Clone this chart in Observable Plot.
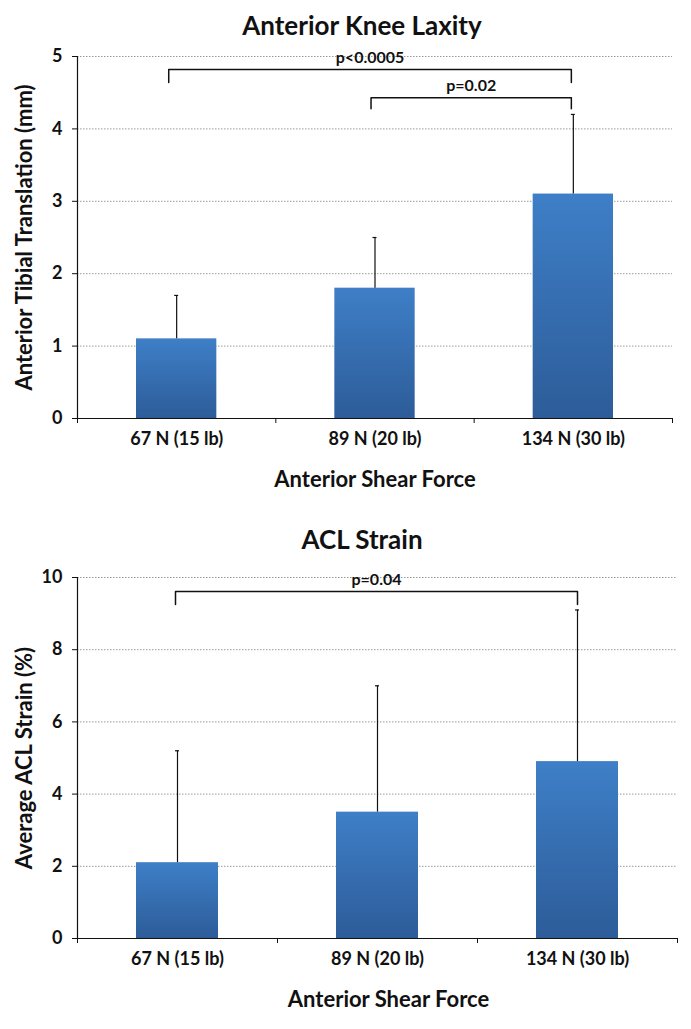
<!DOCTYPE html>
<html>
<head>
<meta charset="utf-8">
<script src="https://cdn.jsdelivr.net/npm/d3@7"></script>
<script src="https://cdn.jsdelivr.net/npm/@observablehq/plot@0.6"></script>
<style>
  html, body { margin: 0; padding: 0; background: #fff; }
  #wrap { position: relative; width: 691px; height: 1029px; font-family: Lato, "Open Sans", sans-serif; }
  .title { position: absolute; transform: translateX(-50%); font-weight: bold; font-size: 26px; line-height: 26px; color: #111; white-space: nowrap; }
  .panel { position: absolute; left: 0; }
</style>
</head>
<body>
<div id="wrap">
  <div class="title" id="t1" style="left:362px; top:12px;"></div>
  <div class="panel" id="p1" style="top:44px;"></div>
  <div class="title" id="t2" style="left:362px; top:526px;"></div>
  <div class="panel" id="p2" style="top:560px;"></div>
</div>
<script>
// ---- data ----
const categories = ["67 N (15 lb)", "89 N (20 lb)", "134 N (30 lb)"];
const xTitle = "Anterior Shear Force";

const laxityTitle = "Anterior Knee Laxity";
const laxityYLabel = "Anterior Tibial Translation (mm)";
const laxityMean = [1.1, 1.8, 3.1];
const laxityUpper = [1.7, 2.5, 4.2];
const laxityTicks = [0, 1, 2, 3, 4, 5];
const laxityBrackets = [
  {label: "p<0.0005", x1: 0.46, x2: 2.49, top: 4.82, leg: 4.64},
  {label: "p=0.02", x1: 1.48, x2: 2.49, top: 4.43, leg: 4.28}
];

const strainTitle = "ACL Strain";
const strainYLabel = "Average ACL Strain (%)";
const strainMean = [2.1, 3.5, 4.9];
const strainUpper = [5.2, 7.0, 9.1];
const strainTicks = [0, 2, 4, 6, 8, 10];
const strainBrackets = [
  {label: "p=0.04", x1: 0.49, x2: 2.5, top: 9.61, leg: 9.25}
];

const FONT = "Lato, 'Open Sans', sans-serif";

function gradientDefs() {
  const ns = "http://www.w3.org/2000/svg";
  const defs = document.createElementNS(ns, "defs");
  const g = document.createElementNS(ns, "linearGradient");
  g.setAttribute("id", "barGrad");
  g.setAttribute("x1", "0"); g.setAttribute("y1", "0");
  g.setAttribute("x2", "0"); g.setAttribute("y2", "1");
  [["0%", "#3e7fc7"], ["100%", "#2d5c99"]].forEach(([o, c]) => {
    const s = document.createElementNS(ns, "stop");
    s.setAttribute("offset", o); s.setAttribute("stop-color", c);
    g.appendChild(s);
  });
  defs.appendChild(g);
  return defs;
}

function panel({mean, upper, ticks, brackets, yLabel, height, marginTop, marginBottom, marginRight, xTitleDx}) {
  const rows = categories.map((c, i) => ({cat: c, i, x: i + 0.5, mean: mean[i], upper: upper[i]}));
  const bracketPts = brackets.flatMap((b, k) => [
    {k, x: b.x1, y: b.leg}, {k, x: b.x1, y: b.top}, {k, x: b.x2, y: b.top}, {k, x: b.x2, y: b.leg}
  ]);
  const bracketLabels = brackets.map(b => ({label: b.label, x: (b.x1 + b.x2) / 2, y: b.top}));
  return Plot.plot({
    width: 691,
    height,
    marginLeft: 77,
    marginRight,
    marginTop,
    marginBottom,
    style: {fontFamily: FONT, color: "#111", background: "white", overflow: "visible"},
    x: {domain: [0, categories.length], axis: null},
    y: {domain: [0, ticks[ticks.length - 1]], axis: null},
    marks: [
      () => gradientDefs(),
      Plot.gridY(ticks.filter(t => t > 0), {stroke: "#9a9a9a", strokeOpacity: 1, strokeDasharray: "1.5,1.5", strokeWidth: 1}),
      Plot.rectY(rows, {x1: d => d.i, x2: d => d.i + 1, y: "mean", fill: "url(#barGrad)", insetLeft: 59, insetRight: 59}),
      Plot.ruleX(rows, {x: "x", y1: "mean", y2: "upper", stroke: "#111", strokeWidth: 1.2}),
      Plot.ruleY(rows, {x1: "x", x2: "x", y: "upper", stroke: "#111", strokeWidth: 1.2, insetLeft: -2, insetRight: -2}),
      Plot.line(bracketPts, {x: "x", y: "y", z: "k", stroke: "#111", strokeWidth: 1.5, curve: "linear"}),
      Plot.text(bracketLabels, {x: "x", y: "y", text: "label", dy: -12, fontSize: 16, fontWeight: "bold", fill: "#111"}),
      Plot.frame({anchor: "left", stroke: "#111", strokeWidth: 1.2}),
      Plot.ruleY([0], {stroke: "#111", strokeWidth: 1.2}),
      Plot.axisY(ticks, {tickSize: 5, tickPadding: 10, tickFormat: d => String(d), fontSize: 18, fontWeight: "bold", label: null, stroke: "#111"}),
      Plot.axisX(d3.range(categories.length + 1), {tickSize: 5, tickFormat: () => "", label: null, stroke: "#111"}),
      Plot.text(rows, {x: "x", text: "cat", frameAnchor: "bottom", dy: 26, fontSize: 18, fontWeight: "bold", fill: "#111"}),
      Plot.text([xTitle], {frameAnchor: "bottom", dx: xTitleDx, dy: 68, fontSize: 22, fontWeight: "bold", fill: "#111"}),
      Plot.text([yLabel], {frameAnchor: "left", textAnchor: "middle", dx: -53, rotate: -90, fontSize: 22, fontWeight: "bold", fill: "#111"})
    ]
  });
}

document.getElementById("t1").textContent = laxityTitle;
document.getElementById("t2").textContent = strainTitle;

document.getElementById("p1").appendChild(panel({
  mean: laxityMean, upper: laxityUpper, ticks: laxityTicks, brackets: laxityBrackets,
  yLabel: laxityYLabel, height: 462, marginTop: 12, marginBottom: 88, marginRight: 19, xTitleDx: 0
}));
document.getElementById("p2").appendChild(panel({
  mean: strainMean, upper: strainUpper, ticks: strainTicks, brackets: strainBrackets,
  yLabel: strainYLabel, height: 469, marginTop: 17, marginBottom: 91, marginRight: 14, xTitleDx: 11
}));
</script>
</body>
</html>
